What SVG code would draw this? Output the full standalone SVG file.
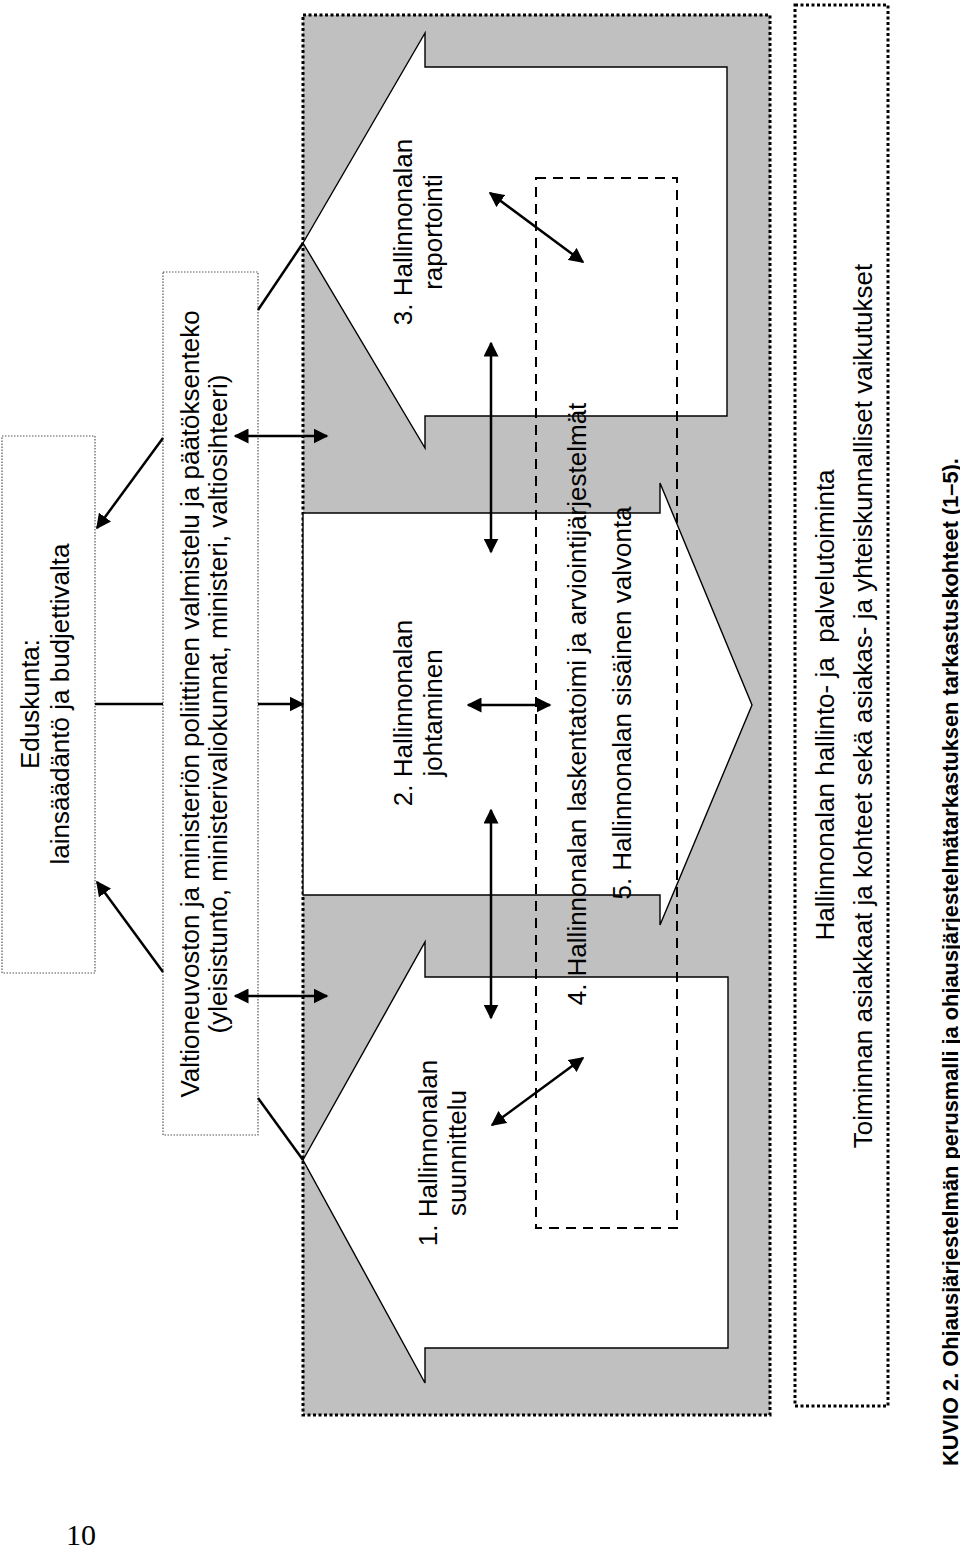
<svg xmlns="http://www.w3.org/2000/svg" width="960" height="1548" viewBox="0 0 960 1548">
<style>
.t{font-family:"Liberation Sans",Arial,sans-serif;font-size:26px;fill:#000;text-anchor:middle}
.cap{font-family:"Liberation Sans",Arial,sans-serif;font-size:21.8px;font-weight:bold;fill:#000}
.blk{fill:#fff;stroke:#000;stroke-width:1.4}
.thin{fill:#fff;stroke:#555;stroke-width:1.2;stroke-dasharray:1.5 1.5}
.thick{stroke:#000;stroke-width:3;stroke-dasharray:3 2.5}
.c{stroke:#000;stroke-width:2.5;fill:none}
.e{marker-end:url(#ah)}
.b{marker-start:url(#ah);marker-end:url(#ah)}
</style>
<defs>
<marker id="ah" viewBox="0 0 10 10" refX="9" refY="5" markerUnits="userSpaceOnUse" markerWidth="15" markerHeight="15" orient="auto-start-reverse">
<path d="M0,0 L10,5 L0,10 z" fill="#000"/>
</marker>
</defs>
<rect width="960" height="1548" fill="#fff"/>

<g id="eduskunta">
<rect x="2" y="436" width="93" height="537" class="thin"/>
<text class="t" transform="translate(39,704) rotate(-90)"><tspan x="0" y="0">Eduskunta:</tspan><tspan x="0" y="30">lainsäädäntö ja budjettivalta</tspan></text>
</g>

<g id="valtioneuvosto">
<rect x="163" y="272" width="95" height="863" class="thin"/>
<text class="t" transform="translate(199,704) rotate(-90)"><tspan x="0" y="0">Valtioneuvoston ja ministeriön poliittinen valmistelu ja päätöksenteko</tspan><tspan x="0" y="28">(yleisistunto, ministerivaliokunnat, ministeri, valtiosihteeri)</tspan></text>
</g>

<g id="hallinnonala">
<rect x="303" y="15" width="467" height="1400" fill="#c0c0c0" class="thick"/>
</g>

<g id="arrow3">
<polygon class="blk" points="303,243 425,33 425,67 727,67 727,416 425,416 425,448"/>
<text class="t" transform="translate(412,232) rotate(-90)"><tspan x="0" y="0">3. Hallinnonalan</tspan><tspan x="0" y="30">raportointi</tspan></text>
</g>

<g id="arrow2">
<polygon class="blk" points="303,513 660,513 660,483 752,705 660,925 660,895 303,895"/>
<text class="t" transform="translate(412,713) rotate(-90)"><tspan x="0" y="0">2. Hallinnonalan</tspan><tspan x="0" y="30">johtaminen</tspan></text>
</g>

<g id="arrow1">
<polygon class="blk" points="303,1160 425,942 425,977 728,977 728,1348 425,1348 425,1383"/>
<text class="t" transform="translate(437,1153) rotate(-90)"><tspan x="0" y="0">1. Hallinnonalan</tspan><tspan x="0" y="29">suunnittelu</tspan></text>
</g>

<g id="valvonta">
<rect x="536" y="178" width="141" height="1050" fill="none" stroke="#000" stroke-width="2" stroke-dasharray="10 7"/>
<text class="t" transform="translate(586,704) rotate(-90)">4. Hallinnonalan laskentatoimi ja arviointijärjestelmät</text>
<text class="t" transform="translate(631,703) rotate(-90)">5. Hallinnonalan sisäinen valvonta</text>
</g>

<g id="toiminta">
<rect x="795" y="5" width="93" height="1401" fill="none" class="thick"/>
<text class="t" xml:space="preserve" transform="translate(834,705) rotate(-90)">Hallinnonalan hallinto- ja  palvelutoiminta</text>
<text class="t" transform="translate(872,706) rotate(-90)">Toiminnan asiakkaat ja kohteet sekä asiakas- ja yhteiskunnalliset vaikutukset</text>
</g>

<g id="connectors">
<line class="c e" x1="163" y1="438" x2="97" y2="528"/>
<line class="c e" x1="163" y1="972" x2="97" y2="882"/>
<line class="c" x1="95" y1="704" x2="163" y2="704"/>
<line class="c e" x1="258" y1="704" x2="303" y2="704"/>
<line class="c b" x1="235" y1="436" x2="327" y2="436"/>
<line class="c b" x1="235" y1="996" x2="327" y2="996"/>
<line class="c" x1="258" y1="310" x2="303" y2="243"/>
<line class="c" x1="258" y1="1098" x2="303" y2="1160"/>
<line class="c b" x1="491" y1="343" x2="491" y2="552"/>
<line class="c b" x1="491" y1="810" x2="491" y2="1018"/>
<line class="c b" x1="468" y1="705" x2="550" y2="705"/>
<line class="c b" x1="490" y1="193" x2="583" y2="262"/>
<line class="c b" x1="492" y1="1125" x2="583" y2="1058"/>
</g>

<g id="caption">
<text class="cap" transform="translate(958,1466) rotate(-90)">KUVIO 2. Ohjausjärjestelmän perusmalli ja ohjausjärjestelmätarkastuksen tarkastuskohteet (1–5).</text>
<text x="66" y="1545" font-family="'Liberation Serif','Times New Roman',serif" font-size="30" fill="#000">10</text>
</g>
</svg>
